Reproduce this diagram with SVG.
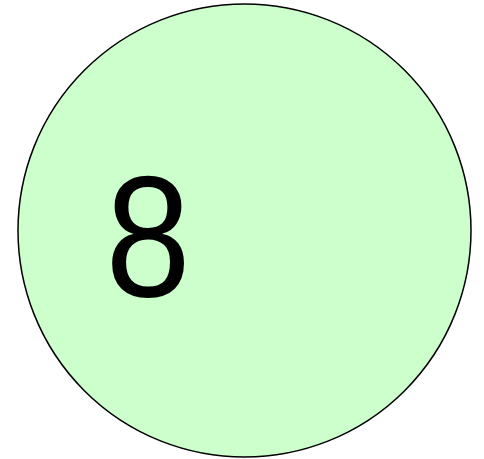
<svg xmlns="http://www.w3.org/2000/svg" width="484" height="459" viewBox="0 0 484 459">
<style>
.node{fill:#ccffcc;stroke:#000;stroke-width:1.5}
.lbl{font-family:"Liberation Sans",Arial,sans-serif;font-size:172px;fill:#000}
</style>
<rect width="484" height="459" fill="#fff"/>
<g id="connectors"></g>
<g id="node8">
<circle class="node" cx="244.5" cy="230.5" r="226.5"/>
<text class="lbl" transform="translate(148,296) scale(0.89,1)" x="0" y="0" text-anchor="middle">8</text>
</g>
</svg>
